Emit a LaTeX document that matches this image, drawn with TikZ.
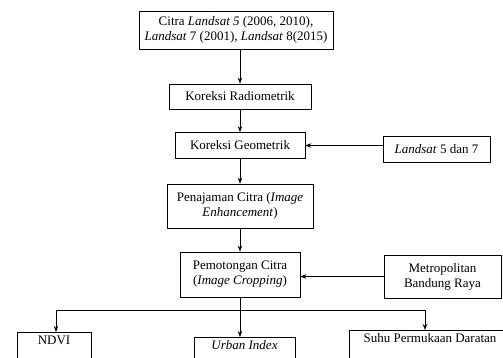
\documentclass[tikz,border=0pt]{standalone}
\usepackage{fontspec}
\setmainfont{Liberation Serif}
\usetikzlibrary{arrows.meta}
\tikzset{
  box/.style={draw, line width=0.7pt, align=center, inner sep=2pt,
    font=\fontsize{13pt}{15pt}\selectfont},
  flow/.style={line width=0.7pt, -{Stealth[length=6pt,width=4.5pt]}},
  link/.style={line width=0.7pt}
}
\begin{document}
\begin{tikzpicture}[x=1pt, y=-1pt]
        \useasboundingbox (0, 0) rectangle (503, 358);
        \clip (0, 0) rectangle (503, 358);

        % main column
        \node[box, minimum width=194pt, minimum height=38pt] (citra) at (236, 30)
          {Citra \textit{Landsat 5} (2006, 2010),\\ \textit{Landsat} 7 (2001), \textit{Landsat} 8(2015)};
        \node[box, minimum width=142pt, minimum height=25pt] (radio) at (240, 96.5) {Koreksi Radiometrik};
        \node[box, minimum width=130pt, minimum height=26pt] (geo) at (240, 145.5) {Koreksi Geometrik};
        \node[box, minimum width=146pt, minimum height=44pt] (tajam) at (240, 206)
          {Penajaman Citra (\textit{Image}\\ \textit{Enhancement})};
        \node[box, minimum width=120pt, minimum height=45pt] (potong) at (240, 274.5)
          {Pemotongan Citra\\ (\textit{Image Cropping})};

        % side inputs
        \node[box, minimum width=107pt, minimum height=26pt] (landsat) at (436.5, 149) {\textit{Landsat} 5 dan 7};
        \node[box, minimum width=117pt, minimum height=43pt] (metro) at (442.5, 276.5)
          {Metropolitan\\ Bandung Raya};

        % outputs
        \node[box, anchor=north, minimum width=74pt, text height=10pt, text depth=30pt] (ndvi) at (54, 332) {NDVI};
        \node[box, anchor=north, minimum width=101pt, text height=10pt, text depth=30pt] (urban) at (244.5, 337) {\textit{Urban Index}};
        \node[box, anchor=north, minimum width=162pt, text height=10pt, text depth=30pt] (suhu) at (430, 330) {Suhu Permukaan Daratan};
        \coordinate (cabang) at (240, 310);

        \draw[flow] (citra.south -| radio) -- (radio);
        \draw[flow] (radio) -- (geo);
        \draw[flow] (geo) -- (tajam);
        \draw[flow] (tajam) -- (potong);
        \draw[flow] (landsat.west |- geo) -- (geo.east);
        \draw[flow] (metro) -- (potong.east |- metro);

        \draw[link] (potong.south) -- (cabang);
        \draw[link] (cabang -| 56, 0) -- (cabang -| 425, 0);
        \draw[flow] (cabang -| 56, 0) -- (56, 332);
        \draw[flow] (cabang) -- (urban.north -| cabang);
        \draw[flow] (cabang -| 425, 0) -- (425, 330);
\end{tikzpicture}
\end{document}
